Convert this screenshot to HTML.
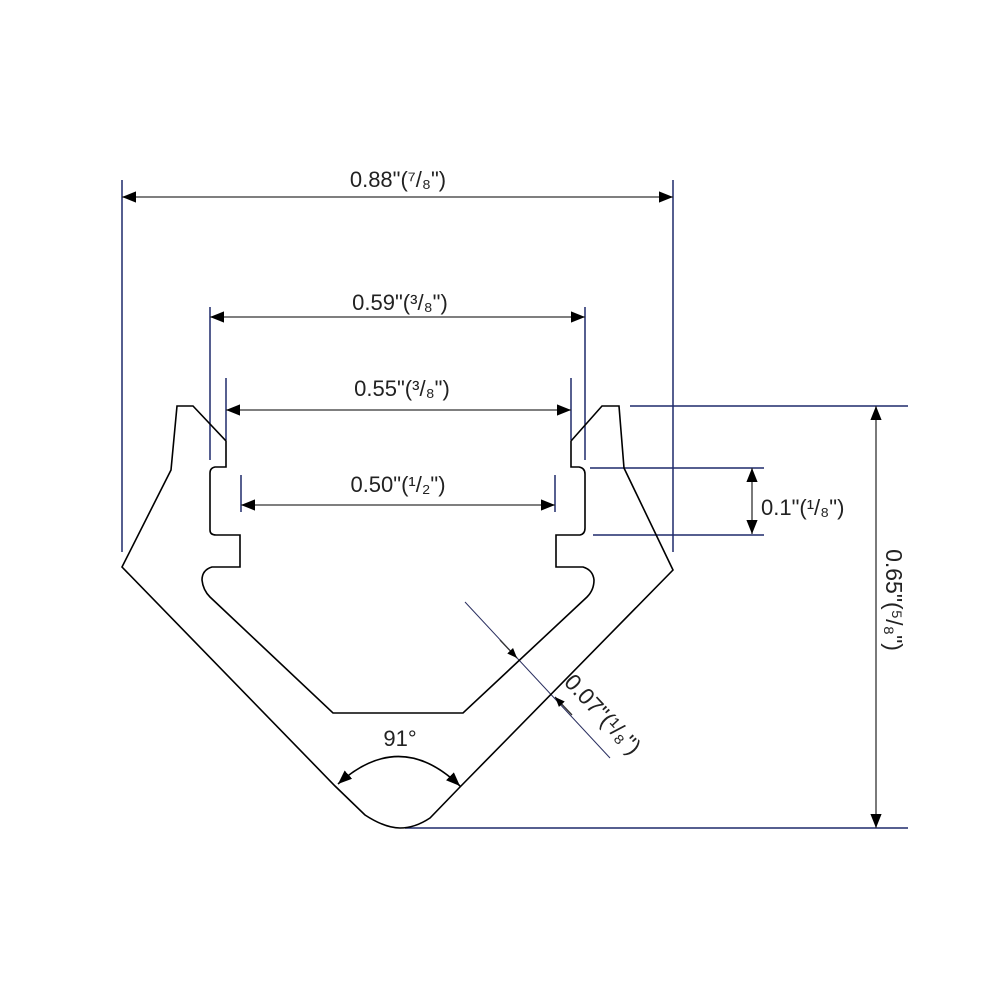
<!DOCTYPE html>
<html><head><meta charset="utf-8"><style>
html,body{margin:0;padding:0;background:#fff;}
svg{display:block;}
text{font-family:"Liberation Sans",sans-serif;fill:#222;}
</style></head><body>
<svg width="1000" height="1000" viewBox="0 0 1000 1000" xmlns="http://www.w3.org/2000/svg">
<defs>
<marker id="a" viewBox="0 0 10 10" refX="10" refY="5" markerWidth="10" markerHeight="10" markerUnits="userSpaceOnUse" orient="auto-start-reverse"><path d="M0,1 L10,5 L0,9 z" fill="#000"/></marker>
<marker id="b" viewBox="0 0 10 10" refX="10" refY="5" markerWidth="14" markerHeight="14" markerUnits="userSpaceOnUse" orient="auto-start-reverse"><path d="M0,1 L10,5 L0,9 z" fill="#000"/></marker>
</defs>
<g stroke="#1f2a6b" stroke-width="1.5" fill="none">
<line x1="122" y1="180" x2="122" y2="552"/>
<line x1="673" y1="180" x2="673" y2="552"/>
<line x1="210" y1="307" x2="210" y2="460"/>
<line x1="585" y1="307" x2="585" y2="460"/>
<line x1="226" y1="378" x2="226" y2="440"/>
<line x1="571" y1="378" x2="571" y2="440"/>
<line x1="241" y1="475" x2="241" y2="512"/>
<line x1="555" y1="475" x2="555" y2="512"/>
<line x1="630" y1="406" x2="908" y2="406"/>
<line x1="590" y1="468" x2="764" y2="468"/>
<line x1="593" y1="535" x2="764" y2="535"/>
<line x1="405" y1="828" x2="908" y2="828"/>
</g>
<g stroke="#333" stroke-width="1.3" fill="none">
<line x1="122" y1="197" x2="673" y2="197" marker-start="url(#b)" marker-end="url(#b)"/>
<line x1="210" y1="317" x2="585" y2="317" marker-start="url(#b)" marker-end="url(#b)"/>
<line x1="226" y1="410" x2="571" y2="410" marker-start="url(#b)" marker-end="url(#b)"/>
<line x1="241" y1="505" x2="555" y2="505" marker-start="url(#b)" marker-end="url(#b)"/>
<line x1="752" y1="468" x2="752" y2="534" marker-start="url(#b)" marker-end="url(#b)"/>
<line x1="876" y1="406" x2="876" y2="828" marker-start="url(#b)" marker-end="url(#b)"/>
<line x1="465" y1="602" x2="610" y2="758" stroke="#2a2f60" stroke-width="1"/>
<line x1="500" y1="640" x2="517" y2="658" marker-end="url(#a)"/>
<line x1="572" y1="715" x2="555" y2="697" marker-end="url(#a)"/>
<path d="M338,784 Q400,728 460,786" marker-start="url(#b)" marker-end="url(#b)" stroke="#000" stroke-width="1.6"/>
</g>
<path d="M177,406 L193,406 L226,441 L226,467 L215,467 Q210,468 210,473 L210,530 Q210,535 216,535 L240,535 L240,567 L212,567 Q202,570 202,580 Q203,590 210,597 L333,713 L463,713 L587,597 Q594,590 594,580 Q593,570 583,567 L556,567 L556,535 L580,535 Q585,534 585,528 L585,474 Q585,468 579,467 L571,467 L571,441 L602,406 L619,406 L624,468 L673,570 L460,787 L430,818 Q415,828 400,828 Q385,828 365,815 L335,786 L122,567 L171,470 Z" fill="none" stroke="#000" stroke-width="1.6"/>
<g font-size="22">
<text x="398" y="187" text-anchor="middle">0.88"(⁷/₈")</text>
<text x="400" y="310" text-anchor="middle">0.59"(³/₈")</text>
<text x="402" y="396" text-anchor="middle">0.55"(³/₈")</text>
<text x="398" y="492" text-anchor="middle">0.50"(¹/₂")</text>
<text x="761" y="515">0.1"(¹/₈")</text>
<text x="400" y="746" text-anchor="middle">91°</text>
<text transform="translate(563,683) rotate(47)" font-size="23">0.07"(¹/₈")</text>
<text transform="translate(886,600) rotate(90)" text-anchor="middle" font-size="23">0.65"(⁵/₈")</text>
</g>
</svg>
</body></html>
